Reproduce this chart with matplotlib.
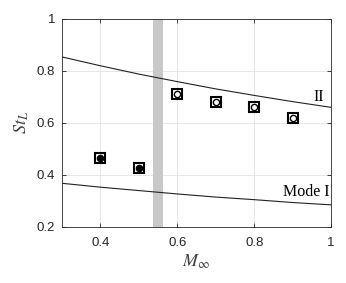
import matplotlib
matplotlib.use("Agg")
import matplotlib.pyplot as plt

# Rossiter-type mode curves
mach_curve = [0.3, 0.4, 0.5, 0.6, 0.7, 0.8, 0.9, 1.0]
mode1_st = [0.368, 0.353, 0.340, 0.327, 0.315, 0.305, 0.294, 0.285]
mode2_st = [0.854, 0.820, 0.788, 0.759, 0.731, 0.706, 0.682, 0.660]

# measured peaks
mach_filled = [0.4, 0.5]
st_filled = [0.465, 0.426]
mach_open = [0.6, 0.7, 0.8, 0.9]
st_open = [0.710, 0.681, 0.662, 0.621]

band = (0.537, 0.562)

plt.rcParams["mathtext.fontset"] = "stix"
plt.rcParams["font.family"] = ["Liberation Sans", "DejaVu Sans"]

fig = plt.figure(figsize=(3.46, 2.83), dpi=100)
ax = fig.add_axes([0.179, 0.198, 0.778, 0.735])

ax.axvspan(*band, color="#c8c8c8", lw=0, zorder=1)
ax.plot(mach_curve, mode1_st, color="#222222", lw=0.8, zorder=2)
ax.plot(mach_curve, mode2_st, color="#222222", lw=0.8, zorder=2)

for xs, ys, face in [(mach_filled, st_filled, "black"), (mach_open, st_open, "white")]:
    ax.plot(xs, ys, ls="none", marker="s", ms=6.8, mfc="none", mec="black", mew=1.5, zorder=3)
    ax.plot(xs, ys, ls="none", marker="o", ms=4.5, mfc=face, mec="black", mew=1.0, zorder=4)

ax.text(0.968, 0.70, "II", family="Liberation Serif", fontsize=11.5, ha="center", va="center")
ax.text(0.995, 0.302, "Mode I", family="Liberation Serif", fontsize=11.5, ha="right", va="bottom")

ax.set_xlim(0.3, 1.0)
ax.set_ylim(0.2, 1.0)
ax.set_xticks([0.4, 0.6, 0.8, 1.0])
ax.set_xticklabels(["0.4", "0.6", "0.8", "1"])
ax.set_yticks([0.2, 0.4, 0.6, 0.8, 1.0])
ax.set_yticklabels(["0.2", "0.4", "0.6", "0.8", "1"])
ax.grid(True, color="#e2e2e2", lw=0.6)
ax.set_axisbelow(True)
ax.tick_params(direction="in", length=3, width=0.6, colors="#262626", labelsize=9.5,
               top=True, right=True)
ax.tick_params(axis="x", pad=7)
ax.tick_params(axis="y", pad=5)
for s in ax.spines.values():
    s.set_color("#262626")
    s.set_linewidth(0.6)

ax.set_xlabel(r"$M_\infty$", fontsize=13, color="#404040", labelpad=3)
ax.set_ylabel(r"$St_L$", fontsize=13, color="#404040", labelpad=4)

fig.savefig("out.png", dpi=100)
